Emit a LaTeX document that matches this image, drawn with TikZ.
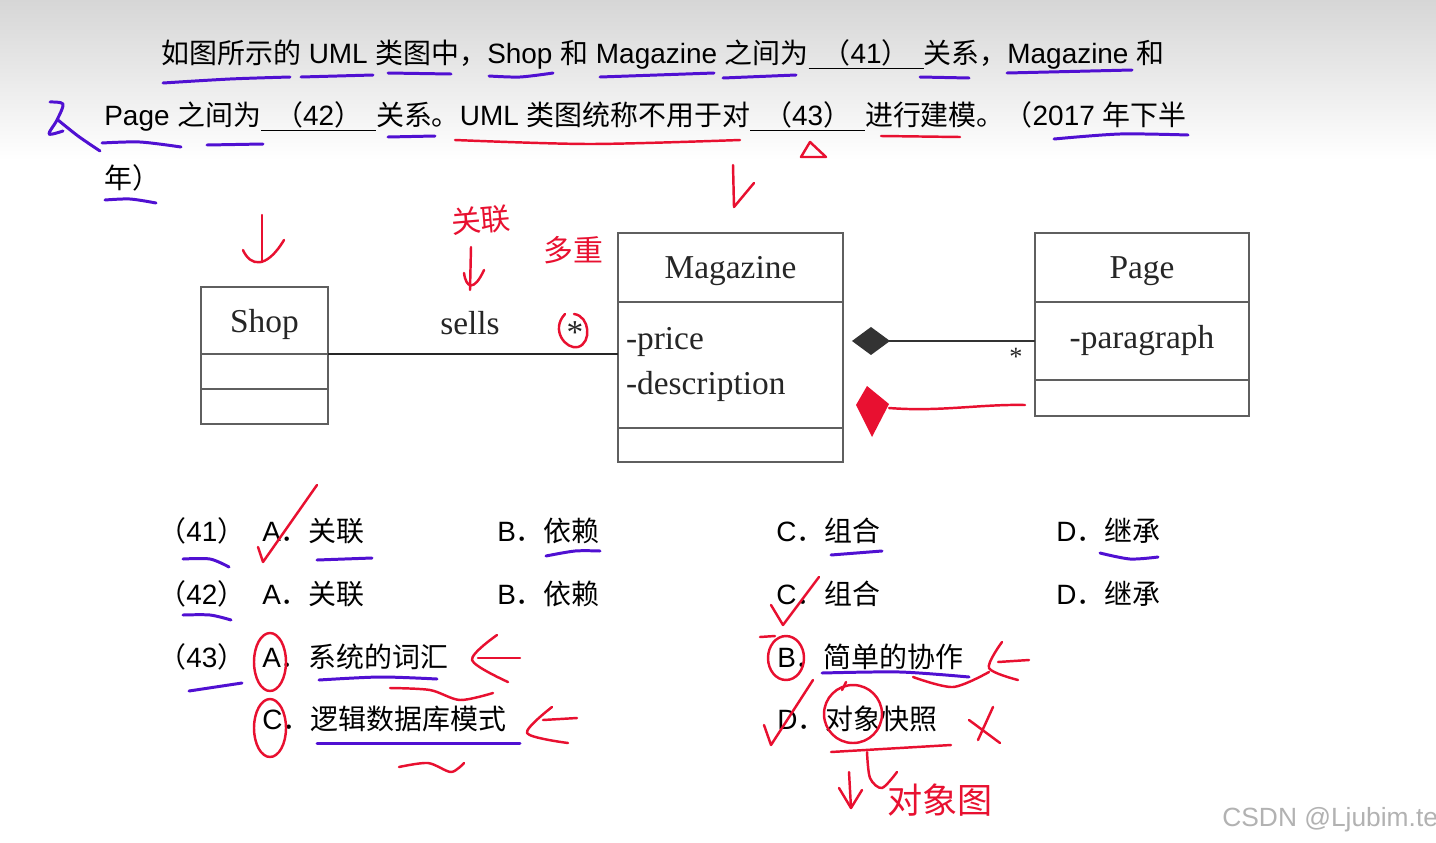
\documentclass[tikz,border=0pt]{standalone}
\usepackage{fontspec}
\setmainfont{Liberation Sans}
\newfontfamily\cjk{Noto Sans CJK SC}
\newfontfamily\umlserif{Liberation Serif}
\usetikzlibrary{arrows.meta, positioning, calc}
\definecolor{penred}{RGB}{232,16,48}
\definecolor{penpurple}{RGB}{80,16,210}
\definecolor{umlgray}{RGB}{95,95,95}
\definecolor{shadetop}{RGB}{214,214,214}
\newcommand{\zh}[1]{{\cjk #1}}
\newcommand{\blank}[1]{\underline{\hspace{0.28cm}\zh{（}#1\zh{）}\hspace{0.28cm}}}

\begin{document}
\begin{tikzpicture}[
	x=0.02cm, y=-0.02cm,
	txt/.style={anchor=base west, inner sep=0pt, font=\fontsize{15.9}{18}\selectfont},
	cls/.style={draw=umlgray, line width=1.5pt, inner sep=0pt, outer sep=0pt, fill=white,
		font=\umlserif\fontsize{19}{22}\selectfont, text=black!85},
	clsname/.style={cls, text depth=0pt},
	lbl/.style={font=\umlserif\fontsize{19}{22}\selectfont, text=black!85, inner sep=0pt},
	pu/.style={draw=penpurple, line width=1.7pt, line cap=round, line join=round},
	rd/.style={draw=penred, line width=1.4pt, line cap=round, line join=round},
	hand/.style={text=penred, font=\cjk\fontsize{17}{17}\selectfont, inner sep=0pt},
	>=Stealth
	]
	\fill[white] (0,0) rectangle (1436,842);
	\shade[top color=shadetop, bottom color=white] (0,0) rectangle (1436,160);
	\useasboundingbox (0,0) rectangle (1436,842);
	
	% question
	\node[txt] (q1) at (161,63) {\zh{如图所示的} UML \zh{类图中，}Shop \zh{和} Magazine \zh{之间为}\blank{41}\zh{关系，}Magazine \zh{和}};
	\node[txt] (q2) at (104,125) {Page \zh{之间为}\blank{42}\zh{关系。}UML \zh{类图统称不用于对}\blank{43}\zh{进行建模。（}2017 \zh{年下半}};
	\node[txt] (q3) at (104,188) {\zh{年）}};
	
	% class diagram
	\node[clsname, minimum width=2.54cm, minimum height=1.34cm] (shop) at (264.5,320.5) {Shop};
	\node[cls, minimum width=2.54cm, minimum height=0.7cm, below=0pt of shop] (shopattr) {};
	\node[cls, minimum width=2.54cm, minimum height=0.7cm, below=0pt of shopattr] (shopops) {};
	
	\node[clsname, minimum width=4.5cm, minimum height=1.38cm] (mag) at (730.5,267.5) {Magazine};
	\node[cls, minimum width=4.5cm, minimum height=2.52cm, below=0pt of mag,
		align=left, text width=4.18cm, inner xsep=0.16cm,
		font=\umlserif\fontsize{19}{25.6}\selectfont] (magattr) {-price\\-description};
	\node[cls, minimum width=4.5cm, minimum height=0.68cm, below=0pt of magattr] (magops) {};
	
	\node[clsname, minimum width=4.28cm, minimum height=1.38cm] (page) at (1142,267.5) {Page};
	\node[cls, minimum width=4.28cm, minimum height=1.56cm, below=0pt of page] (pageattr) {-paragraph};
	\node[cls, minimum width=4.28cm, minimum height=0.72cm, below=0pt of pageattr] (pageops) {};
	
	\draw[line width=1.6pt, black!85] (shop.south east) -- (shop.south east -| magattr.west);
	\draw[line width=1pt, black!80, {Diamond[length=0.76cm,width=0.56cm]}-, shorten <=0.18cm]
		(magattr.east |- pageattr.west) -- (pageattr.west);
	\node[lbl] (sells) at (470,323) {sells};
	\node[lbl] (manystar) at (575,333) {*};
	\node[lbl, font=\umlserif\fontsize{15}{15}\selectfont] (pagestar) at (1016,357) {*};
	
	% choices
	\node[txt] (n41) at (158,541) {\zh{（}41\zh{）}};
	\node[txt] (o41a) at (262,541) {A\zh{．关联}};
	\node[txt] (o41b) at (497,541) {B\zh{．依赖}};
	\node[txt] (o41c) at (776,541) {C\zh{．组合}};
	\node[txt] (o41d) at (1056,541) {D\zh{．继承}};
	\node[txt] (n42) at (158,604) {\zh{（}42\zh{）}};
	\node[txt] (o42a) at (262,604) {A\zh{．关联}};
	\node[txt] (o42b) at (497,604) {B\zh{．依赖}};
	\node[txt] (o42c) at (776,604) {C\zh{．组合}};
	\node[txt] (o42d) at (1056,604) {D\zh{．继承}};
	\node[txt] (n43) at (158,667) {\zh{（}43\zh{）}};
	\node[txt] (o43a) at (262,667) {A\zh{．系统的词汇}};
	\node[txt] (o43b) at (777,667) {B\zh{．简单的协作}};
	\node[txt] (o43c) at (262,729) {C\zh{．逻辑数据库模式}};
	\node[txt] (o43d) at (777,729) {D\zh{．对象快照}};
	
	\node[anchor=base west, inner sep=0pt, text=black!30, font=\fontsize{15}{15}\selectfont] (mark) at (1222,826) {CSDN @Ljubim.te};
	
	% purple pen
	\draw[pu] plot[smooth] coordinates {(163,83) (230,79) (290,77)};
	\draw[pu] (301,77) -- (373,75);
	\draw[pu] (388,73) -- (451,74);
	\draw[pu] plot[smooth] coordinates {(489,76) (520,77) (553,73)};
	\draw[pu] (600,77) -- (714,73);
	\draw[pu] (723,78) -- (796,75);
	\draw[pu] (920,77) -- (969,78);
	\draw[pu] (1007,73) -- (1132,70);
	\draw[pu] plot[smooth] coordinates {(102,143) (140,142) (181,147)};
	\draw[pu] (207,145) -- (263,144);
	\draw[pu] (388,137) -- (435,136);
	\draw[pu] plot[smooth] coordinates {(1054,139) (1120,134) (1188,135)};
	\draw[pu] plot[smooth] coordinates {(105,200) (130,199) (156,203)};
	\draw[pu] plot[smooth] coordinates {(50,102) (63,104) (57,120) (49,134) (63,131)};
	\draw[pu] plot[smooth] coordinates {(58,120) (78,136) (100,151)};
	\draw[pu] plot[smooth] coordinates {(183,559) (210,559) (229,567)};
	\draw[pu] (317,560) -- (372,558);
	\draw[pu] plot[smooth] coordinates {(546,556) (575,551) (600,551)};
	\draw[pu] (831,555) -- (882,551);
	\draw[pu] plot[smooth] coordinates {(1100,553) (1130,559) (1158,557)};
	\draw[pu] plot[smooth] coordinates {(183,615) (210,615) (231,620)};
	\draw[pu] (189,691) -- (242,683);
	\draw[pu] plot[smooth] coordinates {(319,680) (380,677) (437,679)};
	\draw[pu] plot[smooth] coordinates {(822,673) (900,672) (969,677)};
	\draw[pu] (317,743) -- (520,743);
	
	% red pen
	\draw[rd] plot[smooth] coordinates {(455,140) (590,144) (740,140)};
	\draw[rd] (881,136) -- (960,137);
	\draw[rd] (801,157) -- (810,142) -- (826,157) -- cycle;
	\draw[rd] (733,165) -- (734,207) -- (754,183);
	\draw[rd] (262,215) -- (262,262);
	\draw[rd] (243,250) .. controls (250,266) and (266,270) .. (284,240);
	\node[hand, rotate=5] (hw1) at (481,220) {关联};
	\draw[rd] (471,247) -- (470,290);
	\draw[rd] (464,273) .. controls (466,288) and (474,292) .. (484,270);
	\node[hand] (hw2) at (573,250) {多重};
	\draw[rd] (565,314) .. controls (550,330) and (566,350) .. (578,347)
		.. controls (592,343) and (590,316) .. (574,314);
	\fill[penred] (856,405) -- (867,386) -- (889,404) -- (872,437) -- cycle;
	\draw[rd] (889,408) .. controls (940,412) and (980,404) .. (1025,405);
	
	\draw[rd] (258,547) -- (263,562) -- (317,485);
	\draw[rd] (771,605) -- (783,625) -- (819,577);
	\draw[rd] (764,725) -- (771,745) -- (813,680);
	\draw[rd] (270,662) ellipse [x radius=16, y radius=29];
	\draw[rd] (270,728) ellipse [x radius=16, y radius=29];
	\draw[rd] (786,658) ellipse [x radius=18, y radius=22];
	\draw[rd] (760,637) -- (775,636);
	\draw[rd] (853,714) ellipse [x radius=29, y radius=29];
	\draw[rd] (842,690) -- (846,682);
	\draw[rd] plot[smooth] coordinates {(497,635) (472,660) (508,682)};
	\draw[rd] (478,658) -- (520,658);
	\draw[rd] plot[smooth] coordinates {(552,707) (527,733) (568,743)};
	\draw[rd] (543,720) -- (577,718);
	\draw[rd] plot[smooth] coordinates {(1002,642) (989,668) (1018,680)};
	\draw[rd] (998,662) -- (1029,660);
	\draw[rd] plot[smooth] coordinates {(390,688) (430,690) (460,700) (493,693)};
	\draw[rd] plot[smooth] coordinates {(399,767) (428,763) (451,772) (464,763)};
	\draw[rd] plot[smooth] coordinates {(913,677) (953,687) (989,672)};
	\draw[rd] (831,752) -- (951,745);
	\draw[rd] (969,720) -- (1000,743);
	\draw[rd] (993,707) -- (978,740);
	\draw[rd] (849,772) -- (851,808);
	\draw[rd] (839,788) -- (851,808) -- (862,790);
	\draw[rd] plot[smooth] coordinates {(867,752) (870,778) (882,788) (897,772)};
	\node[hand, font=\cjk\fontsize{20}{20}\selectfont] (hw3) at (940,800) {对象图};
\end{tikzpicture}
\end{document}
